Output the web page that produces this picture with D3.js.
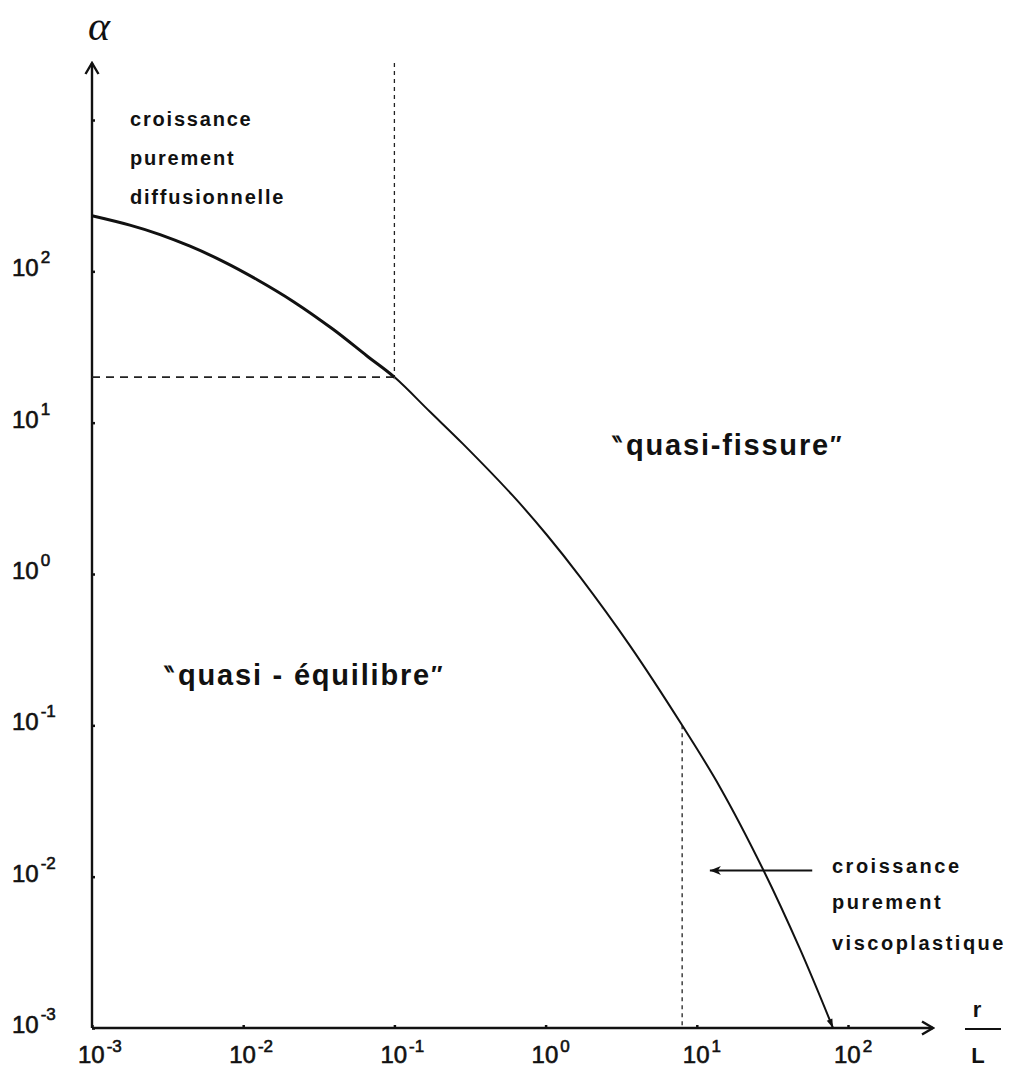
<!DOCTYPE html>
<html>
<head>
<meta charset="utf-8">
<script src="https://cdn.jsdelivr.net/npm/d3@7"></script>
<style>
  html, body { margin: 0; padding: 0; background: #fff; }
  svg { display: block; }
  text { fill: #111; }
</style>
</head>
<body>
<script>
// Growth regimes: alpha versus r/L on log-log axes

// decade ticks
const xTickValues = [1e-3, 1e-2, 1e-1, 1, 10, 100];
const xTickExponents = ["-3", "-2", "-1", "0", "1", "2"];
const yTickValues = [1e-3, 1e-2, 1e-1, 1, 10, 100, 1000];
const yLabelValues = [1e-3, 1e-2, 1e-1, 1, 10, 100];
const yTickExponents = ["-3", "-2", "-1", "0", "1", "2"];

// boundary curve between the two regimes
const curveRL = [0.001, 0.00178, 0.00282, 0.00445, 0.00735, 0.0123, 0.0214, 0.0393, 0.0659, 0.1,
                 0.172, 0.284, 0.609, 1.02, 1.69, 3.62, 8, 14.2, 27.4, 48.1, 79.6];
const curveAlpha = [233, 202, 175, 146.5, 116.5, 88.4, 63.3, 41.4, 27.6, 20,
                    11.8, 7.24, 3.28, 1.81, 0.957, 0.335, 0.1, 0.0392, 0.0112, 0.00333, 0.001];
const thickUntil = 9; // index where the heavier stroke ends

// limits of the purely diffusional / purely viscoplastic domains
const diffusionLimit = { r: 0.1, alpha: 20 };
const viscoLimit = { r: 8, alpha: 0.1 };

// pointer to the viscoplastic label
const pointerFrom = { r: 58, alpha: 0.011 };
const pointerTo = { r: 12.2, alpha: 0.011 };

const W = 1014, H = 1071;
const x0 = 92, x1 = 848, y0 = 1028, y1 = 120;
const xAxisEnd = 933, yAxisTop = 63;
const sans = "'Liberation Sans', Arial, Helvetica, sans-serif";

const x = d3.scaleLog().domain([1e-3, 1e2]).range([x0, x1]);
const y = d3.scaleLog().domain([1e-3, 1e3]).range([y0, y1]);

const svg = d3.select("body").append("svg").attr("width", W).attr("height", H);

const defs = svg.append("defs");
defs.append("marker").attr("id", "axisHead")
  .attr("viewBox", "-12 -8 14 16").attr("markerUnits", "userSpaceOnUse")
  .attr("markerWidth", 14).attr("markerHeight", 16).attr("refX", 0).attr("refY", 0)
  .attr("orient", "auto")
  .append("path").attr("d", "M-11,-6.5 L0,0 L-11,6.5")
  .attr("fill", "none").attr("stroke", "#111").attr("stroke-width", 2.4);
defs.append("marker").attr("id", "curveHead")
  .attr("viewBox", "-10 -5 12 10").attr("markerUnits", "userSpaceOnUse")
  .attr("markerWidth", 12).attr("markerHeight", 10).attr("refX", 0).attr("refY", 0)
  .attr("orient", "auto")
  .append("path").attr("d", "M-9,-3 L0,0 L-9,3 Z").attr("fill", "#111");
defs.append("marker").attr("id", "pointerHead")
  .attr("viewBox", "-12 -6 14 12").attr("markerUnits", "userSpaceOnUse")
  .attr("markerWidth", 14).attr("markerHeight", 12).attr("refX", 0).attr("refY", 0)
  .attr("orient", "auto")
  .append("path").attr("d", "M-11,-4.5 L0,0 L-11,4.5 L-8,0 Z").attr("fill", "#111");

// ticks (labels are drawn separately with superscripts)
svg.append("g").attr("transform", `translate(${x0},0)`)
  .call(d3.axisLeft(y).tickValues(yTickValues).tickSize(-3).tickFormat(""))
  .call(g => g.select(".domain").remove())
  .call(g => g.selectAll("line").attr("stroke", "#111").attr("stroke-width", 2.5));
svg.append("g").attr("transform", `translate(0,${y0})`)
  .call(d3.axisBottom(x).tickValues(xTickValues).tickSize(-3).tickFormat(""))
  .call(g => g.select(".domain").remove())
  .call(g => g.selectAll("line").attr("stroke", "#111").attr("stroke-width", 2.5));

// axes with arrowheads
svg.append("line").attr("x1", x0).attr("y1", y0).attr("x2", x0).attr("y2", yAxisTop)
  .attr("stroke", "#111").attr("stroke-width", 2.4).attr("marker-end", "url(#axisHead)");
svg.append("line").attr("x1", x0).attr("y1", y0).attr("x2", xAxisEnd).attr("y2", y0)
  .attr("stroke", "#111").attr("stroke-width", 2.6).attr("marker-end", "url(#axisHead)");

// y tick labels
const yl = svg.append("g").attr("font-family", sans)
  .attr("stroke", "#111").attr("stroke-width", 0.6);
yLabelValues.forEach((v, i) => {
  const t = yl.append("text").attr("x", 12).attr("y", y(v) + 5).attr("font-size", 24);
  t.append("tspan").text("10");
  t.append("tspan").attr("dx", 2).attr("dy", -13).attr("font-size", 17).text(yTickExponents[i]);
});

// x tick labels
const xl = svg.append("g").attr("font-family", sans)
  .attr("stroke", "#111").attr("stroke-width", 0.6);
xTickValues.forEach((v, i) => {
  const t = xl.append("text").attr("x", x(v) - 14).attr("y", 1063).attr("font-size", 24);
  t.append("tspan").text("10");
  t.append("tspan").attr("dx", 2).attr("dy", -11).attr("font-size", 17).text(xTickExponents[i]);
});

// axis titles
svg.append("text").attr("x", 99).attr("y", 40).attr("text-anchor", "middle")
  .attr("font-family", "'Liberation Serif', 'Times New Roman', serif")
  .attr("font-style", "italic").attr("font-size", 42).text("α");
svg.append("text").attr("x", 977).attr("y", 1017).attr("text-anchor", "middle")
  .attr("font-family", sans).attr("font-weight", "bold").attr("font-size", 22).text("r");
svg.append("line").attr("x1", 965).attr("x2", 1001).attr("y1", 1029).attr("y2", 1029)
  .attr("stroke", "#111").attr("stroke-width", 2);
svg.append("text").attr("x", 978).attr("y", 1063).attr("text-anchor", "middle")
  .attr("font-family", sans).attr("font-weight", "bold").attr("font-size", 22).text("L");

// dashed domain limits
svg.append("line")
  .attr("x1", x(diffusionLimit.r)).attr("x2", x(diffusionLimit.r))
  .attr("y1", yAxisTop).attr("y2", y(diffusionLimit.alpha))
  .attr("stroke", "#222").attr("stroke-width", 1.3).attr("stroke-dasharray", "4,4");
svg.append("line")
  .attr("x1", x0).attr("x2", x(diffusionLimit.r))
  .attr("y1", y(diffusionLimit.alpha)).attr("y2", y(diffusionLimit.alpha))
  .attr("stroke", "#222").attr("stroke-width", 1.6).attr("stroke-dasharray", "8,6");
svg.append("line")
  .attr("x1", x(viscoLimit.r)).attr("x2", x(viscoLimit.r))
  .attr("y1", y(viscoLimit.alpha)).attr("y2", y0)
  .attr("stroke", "#222").attr("stroke-width", 1.3).attr("stroke-dasharray", "4,4");

// boundary curve: one smooth path, drawn twice with a clip so the upper part is heavier
const pts = curveRL.map((r, i) => [r, curveAlpha[i]]);
const line = d3.line().x(d => x(d[0])).y(d => y(d[1])).curve(d3.curveCatmullRom.alpha(0.5));
const splitX = x(curveRL[thickUntil]);
defs.append("clipPath").attr("id", "clipLeft")
  .append("rect").attr("x", 0).attr("y", 0).attr("width", splitX).attr("height", H);
defs.append("clipPath").attr("id", "clipRight")
  .append("rect").attr("x", splitX).attr("y", 0).attr("width", W - splitX).attr("height", H);
svg.append("path").datum(pts).attr("d", line).attr("clip-path", "url(#clipLeft)")
  .attr("fill", "none").attr("stroke", "#111").attr("stroke-width", 3);
svg.append("path").datum(pts).attr("d", line).attr("clip-path", "url(#clipRight)")
  .attr("fill", "none").attr("stroke", "#111").attr("stroke-width", 2);
svg.append("path").datum(pts.slice(-2)).attr("d", line)
  .attr("fill", "none").attr("stroke", "none").attr("marker-end", "url(#curveHead)");

// pointer arrow
svg.append("line")
  .attr("x1", x(pointerFrom.r)).attr("y1", y(pointerFrom.alpha))
  .attr("x2", x(pointerTo.r)).attr("y2", y(pointerTo.alpha))
  .attr("stroke", "#111").attr("stroke-width", 2).attr("marker-end", "url(#pointerHead)");

// region labels
function block(lines, px, baselines, size, spacing) {
  const g = svg.append("g").attr("font-family", sans).attr("font-weight", "bold")
    .attr("font-size", size).attr("letter-spacing", spacing);
  lines.forEach((s, i) => g.append("text").attr("x", px).attr("y", baselines[i]).text(s));
}
block(["croissance", "purement", "diffusionnelle"], 130, [126, 165, 204], 20, 1.8);
block(["croissance", "purement", "viscoplastique"], 832, [873, 909, 950], 20, 2.5);

function quoted(label, px, py) {
  const t = svg.append("text").attr("x", px).attr("y", py)
    .attr("font-family", sans).attr("font-weight", "bold").attr("font-size", 29);
  t.append("tspan").attr("font-size", 24).attr("dy", -2).text("‶");
  t.append("tspan").attr("dx", 2).attr("dy", 2).attr("letter-spacing", 1.8).text(label);
  t.append("tspan").attr("font-size", 24).attr("dy", -2).text("″");
}
quoted("quasi-fissure", 613, 455);
quoted("quasi - équilibre", 165, 685);
</script>
</body>
</html>
